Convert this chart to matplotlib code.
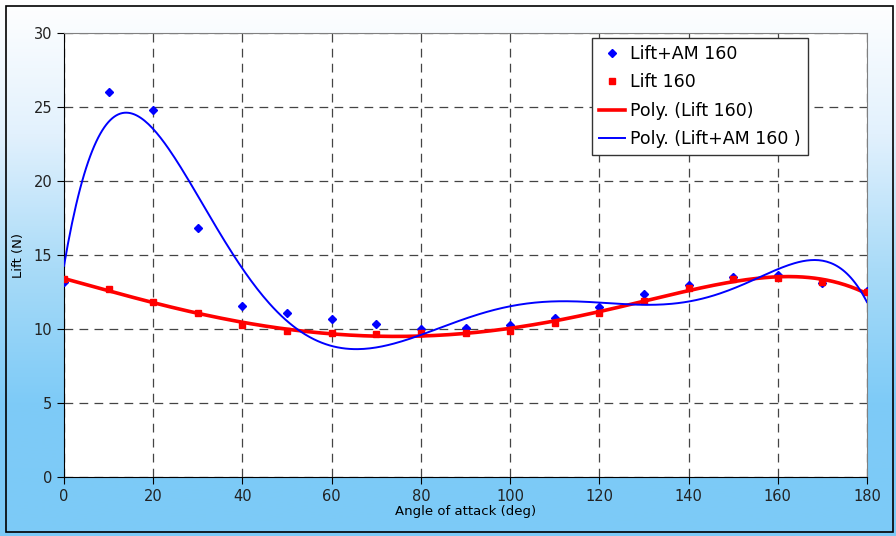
import matplotlib.pyplot as plt
from matplotlib.colors import LinearSegmentedColormap
from matplotlib.patches import Rectangle
import numpy as np

# angulo de ataque (graus)
angulos = [0, 10, 20, 30, 40, 50, 60, 70, 80, 90, 100, 110, 120, 130, 140, 150, 160, 170, 180]

# sustentacao + massa adicional (N)
lift_am = [13.2, 26.0, 24.8, 16.8, 11.55, 11.08, 10.68, 10.34, 10.0, 10.07, 10.27, 10.74,
           11.49, 12.36, 12.95, 13.5, 13.65, 13.1, 12.6]

# sustentacao (N)
lift = [13.35, 12.68, 11.85, 11.06, 10.27, 9.89, 9.7, 9.66, 9.75, 9.7, 9.89, 10.43,
        11.06, 11.9, 12.75, 13.36, 13.47, 13.15, 12.48]

ordem_poly = 6

x = np.array(angulos, dtype=float)
x_fino = np.linspace(0, 180, 400)

# linha de tendencia polinomial (como no excel)
coef_lift = np.polyfit(x / 180, lift, ordem_poly)
coef_am = np.polyfit(x / 180, lift_am, ordem_poly)
tend_lift = np.polyval(coef_lift, x_fino / 180)
tend_am = np.polyval(coef_am, x_fino / 180)

fig = plt.figure(figsize=(8.96, 5.36), dpi=100)

# fundo degrade branco (topo) -> azul (baixo)
fundo = fig.add_axes([0, 0, 1, 1], zorder=-10)
cmap = LinearSegmentedColormap.from_list('fundo', ['#ffffff', '#e2f1fd', '#a9dbf8', '#7ecbf7', '#7ccaf7'])
gradiente = np.linspace(0, 1, 256).reshape(-1, 1)
fundo.imshow(gradiente, aspect='auto', cmap=cmap, extent=[0, 1, 0, 1], origin='upper')
fundo.add_patch(Rectangle((6 / 896, 4 / 536), 887 / 896, 526 / 536, fill=False,
                          edgecolor='black', linewidth=1.2))
fundo.set_xlim(0, 1)
fundo.set_ylim(0, 1)
fundo.axis('off')

ax = fig.add_axes([64 / 896, 59 / 536, 803 / 896, 444 / 536])
ax.set_facecolor('white')

ax.plot(x, lift_am, linestyle='none', marker='D', markersize=4.2, color='#0000ff',
        label='Lift+AM 160', zorder=3)
ax.plot(x, lift, linestyle='none', marker='s', markersize=5, color='#ff0000',
        label='Lift 160', zorder=4)
ax.plot(x_fino, tend_lift, color='#ff0000', linewidth=2.6, label='Poly. (Lift 160)', zorder=5)
ax.plot(x_fino, tend_am, color='#0000ff', linewidth=1.4, label='Poly. (Lift+AM 160 )', zorder=6)

ax.set_xlim(0, 180)
ax.set_ylim(0, 30)
ax.set_xticks(range(0, 181, 20))
ax.set_yticks(range(0, 31, 5))
ax.grid(True, color='#444444', linestyle=(0, (7, 5)), linewidth=0.9)
ax.set_axisbelow(True)

for lado in ['top', 'right']:
    ax.spines[lado].set_color('#808080')
for lado in ['left', 'bottom']:
    ax.spines[lado].set_color('black')

ax.tick_params(direction='out', length=5, labelsize=10.5, colors='black', labelcolor='#222222')
ax.set_xlabel('Angle of attack (deg)', fontsize=9.5, labelpad=1)
ax.set_ylabel('Lift (N)', fontsize=9.5, labelpad=6)

leg = ax.legend(loc='upper right', bbox_to_anchor=(0.9265, 0.989), borderaxespad=0,
                fontsize=12.5, frameon=True, fancybox=False, edgecolor='#333333',
                framealpha=1, handlelength=1.5, handletextpad=0.3, borderpad=0.4,
                labelspacing=0.6)
leg.get_frame().set_linewidth(1.0)

plt.savefig('out.png', dpi=100)
plt.close()
